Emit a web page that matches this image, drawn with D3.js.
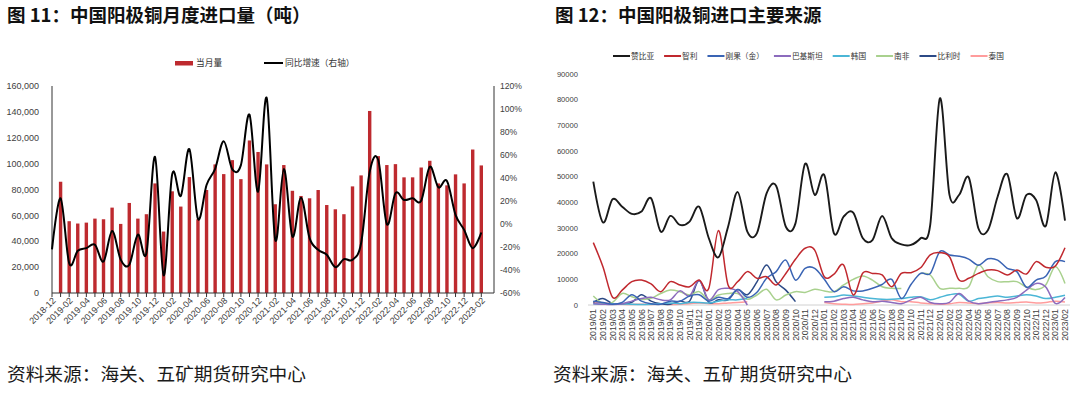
<!DOCTYPE html>
<html>
<head>
<meta charset="utf-8">
<script src="https://cdn.jsdelivr.net/npm/d3@7"></script>
<style>
    body { margin: 0; background: #fff; }
    svg { display: block; font-family: "Liberation Sans", "Noto Sans CJK SC", sans-serif; }
    .cjk { font-family: "Noto Sans CJK SC", sans-serif; }
</style>
</head>
<body>
<svg id="chart" width="1080" height="396"></svg>
<script>
// ---- data: figure 11 (monthly imports + yoy) ----
const months1 = d3.timeMonths(new Date(2018, 11, 1), new Date(2023, 2, 1)).map(d3.timeFormat('%Y-%m'));
const monthlyImports = [null,
    86000, 55500, 53700, 54400, 57500, 57000, 66000, 53400, 69600, 57500, 60900, 84700,
    47500, 78600, 66800, 89600, 57000, 79600, 99400, 91900, 102700, 88000, 117900, 109000,
    99400, 68600, 98900, 79000, 75000, 73200, 79600, 68000, 64700, 60900, 82400, 90900,
    140700, 105800, 98900, 99600, 89400, 89400, 97000, 102200, 84700, 83200, 91700, 84700,
    110900, 98600];
const yoyGrowth = [-22,
    22.3, -34, -23.3, -21, -18, -32.6, -6, -31, -35.4, -9.2, -25.3, 58.4,
    -44.7, 43.4, 24.4, 65.1, 4.4, 33.9, 48, 72, 47.5, 51.2, 95.1, 28.1,
    109.6, -13.8, 47.8, -10.9, 22.9, -12.3, -22.4, -26.8, -37.5, -30.5, -31.1, -16.7,
    45.4, 55.6, -0.2, 26.7, 20.9, 22.3, 20.3, 49.8, 31.9, 37.4, 7.9, -5.1,
    -21, -7.4];
const leftTicks = [0, 20000, 40000, 60000, 80000, 100000, 120000, 140000, 160000];
const rightTicks = [-60, -40, -20, 0, 20, 40, 60, 80, 100, 120];

// ---- data: figure 12 (import sources, tonnes) ----
const months2 = d3.timeMonths(new Date(2019, 0, 1), new Date(2023, 2, 1)).map(d3.timeFormat('%Y/%m'));
const zambia = [48100, 32200, 41200, 38300, 35500, 36400, 41600, 28600, 34700, 31200, 32500, 38300,
    26000, 18600, 30500, 44000, 28600, 28000, 43500, 46400, 30500, 31800, 55000, 42900,
    50600, 27900, 34400, 36000, 26000, 25300, 34700, 26000, 23600, 23400, 26000, 31200,
    80500, 42900, 42900, 49700, 29900, 29200, 42200, 51000, 33800, 42900, 40900, 30800,
    51700, 32900];
const chile = [24300, 14900, 3000, 5800, 9100, 9700, 8200, 5200, 9100, 7800, 7100, 9700,
    6500, 29000, 7800, 9100, 13000, 10400, 11000, 7800, 12300, 17800, 22100, 21400,
    11000, 12000, 15600, 3900, 12500, 12300, 11700, 7100, 12300, 12600, 14500, 19500,
    20400, 18800, 9700, 10400, 12300, 13600, 13400, 11700, 13600, 12100, 16900, 14700,
    15200, 22300];
const congo = [1500, 1000, 300, 1000, 4000, 1500, 500, 300, 1500, 1500, 3500, 4000,
    1500, 3000, 2500, 6000, 3000, 5000, 10400, 13000, 17500, 9700, 14300, 14300,
    10000, 5200, 7100, 5500, 5500, 6500, 8000, 10000, 2500, 8000, 12300, 12300,
    20800, 19500, 19000, 17900, 15500, 18000, 17500, 14300, 13000, 6900, 9700, 11200,
    16900, 16900];
const pakistan = [500, 300, 200, 500, 1500, 2500, 3000, 2000, 2000, 5500, 3500, 9500,
    2000, 6000, 6500, 5200, 0, null, null, null, null, null, null, null,
    1300, 1500, 2500, 3000, 2000, 1300, 1500, 1000, 500, 2000, 3000, 1000,
    500, 1000, 4500, 1500, 500, 1000, 1500, 2000, 3000, 5800, 8400, 7000,
    600, 2900];
const korea = [500, 300, 500, 500, 300, 200, 300, 500, 800, 500, 1000, 1000,
    800, 1500, 2000, 2000, 2500, null, null, null, null, null, null, null,
    3000, 3200, 3900, 3500, 3000, 2500, 2200, 2200, 2500, 3000, 3200, 2000,
    3000, 4000, 4200, 1500, 2500, 3000, 3500, 3000, 3500, 4000, 3500, 2500,
    3000, 3800];
const southAfrica = [3500, 600, 1000, 4500, 3200, 2200, 2600, 4500, 5800, 5200, 3900, 5200,
    2000, 3900, 4500, 4500, 2200, 3900, 6100, 2000, 3900, 5200, 4900, 6100,
    5500, 5200, 7800, 10000, 11300, 9700, 7100, 6500, 6400, null, 12300, 11700,
    6500, 6500, 6500, 7100, 15600, 11000, 9100, 9100, 9100, 7000, 6000, 7800,
    14900, 8400];
const belgium = [1000, 2500, 500, 500, 1000, 4000, 1500, 500, 300, 1500, 1500, 9500,
    1000, 2000, 2000, 6000, 4000, 9000, 15600, 9000, 5800, 1300, null, null,
    null, null, null, null, null, null, null, null, null, null, null, null,
    null, null, null, null, null, null, null, null, null, null, null, null,
    null, null];
const thailand = [1000, 800, 500, 300, 200, 300, 200, 300, 200, 300, 500, 800,
    500, 500, 800, 1000, 1300, null, null, null, null, null, null, null,
    1000, 500, 300, 200, 500, 800, 1500, 2000, 1300, 1300, 800, 500,
    300, 500, 1000, 800, 500, 800, 1000, 800, 1000, 1200, 800, 1000,
    1500, 1200];
const sourceNames = ['赞比亚', '智利', '刚果（金）', '巴基斯坦', '韩国', '南非', '比利时', '泰国'];
const sourceColors = ['#1a1a1a', '#c0282e', '#3a64b4', '#8c6bbd', '#4bb6d6', '#a9d18e', '#2c4a86', '#ff9c9c'];
const sourceSeries = [zambia, chile, congo, pakistan, korea, southAfrica, belgium, thailand];
const y2Ticks = [0, 10000, 20000, 30000, 40000, 50000, 60000, 70000, 80000, 90000];

const svg = d3.select('#chart');

// titles + footers
svg.selectAll('text.title')
    .data([{ x: 7, t: '图 11：中国阳极铜月度进口量（吨）' }, { x: 555, t: '图 12：中国阳极铜进口主要来源' }])
    .join('text')
    .attr('class', 'title cjk')
    .attr('x', d => d.x)
    .attr('y', 22)
    .attr('font-size', 18.5)
    .attr('font-weight', 'bold')
    .attr('fill', '#111')
    .text(d => d.t);

svg.selectAll('text.source')
    .data([7, 553])
    .join('text')
    .attr('class', 'source cjk')
    .attr('x', d => d)
    .attr('y', 381)
    .attr('font-size', 18.7)
    .attr('fill', '#1a1a1a')
    .text('资料来源：海关、五矿期货研究中心');

// ================= figure 11 =================
const x1 = d3.scalePoint().domain(months1).range([52, 481.3]);
const yL = d3.scaleLinear().domain([0, 160000]).range([293, 86]);
const yR = d3.scaleLinear().domain([-60, 120]).range([293, 86]);
const fig1 = svg.append('g');

const barData = months1.map((m, i) => ({ m, v: monthlyImports[i] })).filter(d => d.v != null);
fig1.append('g')
    .selectAll('rect')
    .data(barData)
    .join('rect')
    .attr('x', d => x1(d.m) - 1.7)
    .attr('width', 3.4)
    .attr('y', d => yL(d.v))
    .attr('height', d => yL(0) - yL(d.v))
    .attr('fill', '#be2a2f');

// axes
fig1.append('line').attr('x1', 52).attr('x2', 52).attr('y1', 86).attr('y2', 293).attr('stroke', '#333');
fig1.append('line').attr('x1', 494).attr('x2', 494).attr('y1', 86).attr('y2', 293).attr('stroke', '#333');
fig1.append('line').attr('x1', 52).attr('x2', 494).attr('y1', 293).attr('y2', 293).attr('stroke', '#333');

fig1.append('g')
    .selectAll('line')
    .data(months1)
    .join('line')
    .attr('x1', d => x1(d)).attr('x2', d => x1(d))
    .attr('y1', 293).attr('y2', 297)
    .attr('stroke', '#333');

fig1.append('g')
    .selectAll('text')
    .data(leftTicks)
    .join('text')
    .attr('x', 39)
    .attr('y', d => yL(d))
    .attr('dy', '0.35em')
    .attr('text-anchor', 'end')
    .attr('font-size', 9)
    .attr('fill', '#404040')
    .text(d => d3.format(',')(d));

fig1.append('g')
    .selectAll('text')
    .data(rightTicks)
    .join('text')
    .attr('x', 500)
    .attr('y', d => yR(d))
    .attr('dy', '0.35em')
    .attr('font-size', 8.6)
    .attr('fill', '#404040')
    .text(d => d + '%');

fig1.append('g')
    .selectAll('text')
    .data(months1.filter((d, i) => i % 2 === 0))
    .join('text')
    .attr('transform', d => `translate(${x1(d) + 2},${299}) rotate(-45)`)
    .attr('text-anchor', 'end')
    .attr('dy', '0.35em')
    .attr('font-size', 9)
    .attr('fill', '#404040')
    .text(d => d);

const growthLine = d3.line()
    .x((d, i) => x1(months1[i]))
    .y(d => yR(d))
    .curve(d3.curveCatmullRom.alpha(0));

fig1.append('path')
    .datum(yoyGrowth)
    .attr('d', growthLine)
    .attr('fill', 'none')
    .attr('stroke', '#000')
    .attr('stroke-width', 2);

// legend 1
fig1.append('rect').attr('x', 175).attr('y', 61).attr('width', 18).attr('height', 4.5).attr('fill', '#be2a2f');
fig1.append('text').attr('class', 'cjk').attr('x', 196).attr('y', 63).attr('dy', '0.35em')
    .attr('font-size', 8.7).attr('fill', '#333').text('当月量');
fig1.append('line').attr('x1', 264).attr('x2', 283).attr('y1', 63).attr('y2', 63).attr('stroke', '#000').attr('stroke-width', 2);
fig1.append('text').attr('class', 'cjk').attr('x', 285).attr('y', 63).attr('dy', '0.35em')
    .attr('font-size', 8.7).attr('fill', '#333').text('同比增速（右轴）');

// ================= figure 12 =================
const x2 = d3.scalePoint().domain(months2).range([593.3, 1065]);
const y2 = d3.scaleLinear().domain([0, 90000]).range([305, 74]);
const fig2 = svg.append('g');

fig2.append('line').attr('x1', 588).attr('x2', 1070).attr('y1', 305).attr('y2', 305).attr('stroke', '#d0d0d0');

fig2.append('g')
    .selectAll('text')
    .data(y2Ticks)
    .join('text')
    .attr('x', 578)
    .attr('y', d => y2(d))
    .attr('dy', '0.35em')
    .attr('text-anchor', 'end')
    .attr('font-size', 7.6)
    .attr('fill', '#404040')
    .text(d => d);

fig2.append('g')
    .selectAll('text')
    .data(months2)
    .join('text')
    .attr('transform', d => `translate(${x2(d)},${309}) rotate(-90)`)
    .attr('text-anchor', 'end')
    .attr('dy', '0.35em')
    .attr('font-size', 8.8)
    .attr('fill', '#404040')
    .text(d => d);

const sourceLine = d3.line()
    .defined(d => d != null)
    .x((d, i) => x2(months2[i]))
    .y(d => y2(d))
    .curve(d3.curveCatmullRom.alpha(0));

// draw back to front so zambia / chile sit on top
const order = [7, 6, 5, 4, 3, 2, 1, 0];
fig2.append('g')
    .selectAll('path')
    .data(order)
    .join('path')
    .attr('d', k => sourceLine(sourceSeries[k]))
    .attr('fill', 'none')
    .attr('stroke', k => sourceColors[k])
    .attr('stroke-width', k => k === 0 ? 1.9 : 1.5);

// legend 2
const legend2 = fig2.append('g');
let lx = 613;
sourceNames.forEach((name, k) => {
    legend2.append('line')
        .attr('x1', lx).attr('x2', lx + 17)
        .attr('y1', 56).attr('y2', 56)
        .attr('stroke', sourceColors[k])
        .attr('stroke-width', 2);
    const t = legend2.append('text')
        .attr('class', 'cjk')
        .attr('x', lx + 18)
        .attr('y', 56)
        .attr('dy', '0.35em')
        .attr('font-size', 7.7)
        .attr('fill', '#333')
        .text(name);
    lx += 18 + t.node().getComputedTextLength() + 10;
});
</script>
</body>
</html>
